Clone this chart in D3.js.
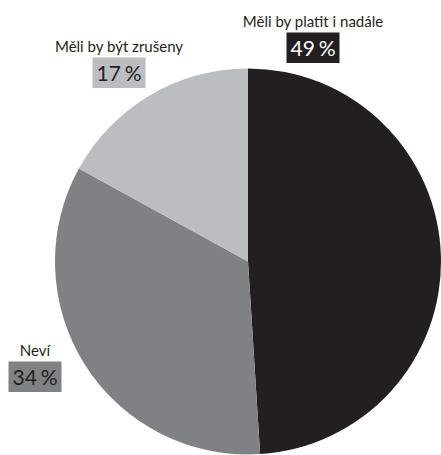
<!DOCTYPE html>
<html>
<head>
<meta charset="utf-8">
<script src="https://cdn.jsdelivr.net/npm/d3@7"></script>
<style>
  body { margin: 0; background: #fff; }
  svg { display: block; }
</style>
</head>
<body>
<svg id="chart"></svg>
<script>
// data
const categories = ['Měli by platit i nadále', 'Neví', 'Měli by být zrušeny']
const values = [49, 34, 17]
const colors = ['#231f20', '#808184', '#bcbdc0']
const valueColors = ['#ffffff', '#231f20', '#231f20']

// where each label sits (label baseline, centre x)
const labelAnchors = [
  { x: 313, y: 27 },
  { x: 35, y: 356 },
  { x: 119, y: 52 }
]

const width = 441
const height = 455
const cx = 248, cy = 261.5, radius = 193

const svg = d3.select('#chart')
  .attr('width', width)
  .attr('height', height)

const pie = d3.pie().sort(null).value(d => d)
const arc = d3.arc().innerRadius(0).outerRadius(radius)

const g = svg.append('g').attr('transform', 'translate(' + cx + ',' + cy + ')')

g.selectAll('path')
  .data(pie(values))
  .join('path')
  .attr('d', arc)
  .attr('fill', (d, i) => colors[i])

// labels
const font = 'Lato, "Open Sans", sans-serif'
categories.forEach((c, i) => {
  const a = labelAnchors[i]
  svg.append('text')
    .attr('x', a.x)
    .attr('y', a.y)
    .attr('text-anchor', 'middle')
    .attr('font-family', font)
    .attr('font-size', '15px')
    .attr('fill', '#231f20')
    .text(c)

  // value box
  svg.append('rect')
    .attr('x', a.x - 26.5)
    .attr('y', a.y + 5.5)
    .attr('width', 53)
    .attr('height', 30.5)
    .attr('fill', colors[i])
  svg.append('text')
    .attr('x', a.x)
    .attr('y', a.y + 28.5)
    .attr('text-anchor', 'middle')
    .attr('font-family', font)
    .attr('font-size', '21px')
    .attr('word-spacing', '-1.5px')
    .attr('fill', valueColors[i])
    .text(values[i] + ' %')
})
</script>
</body>
</html>
